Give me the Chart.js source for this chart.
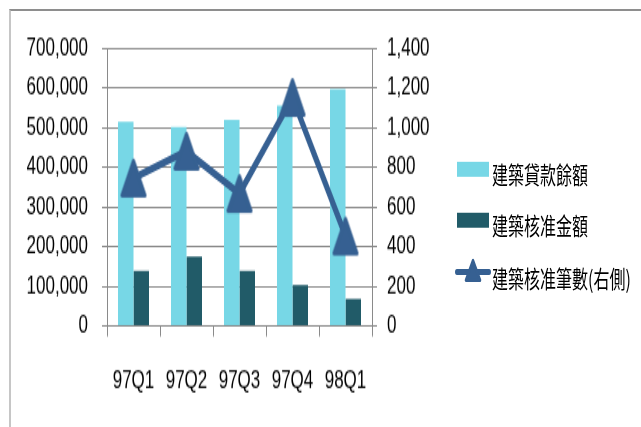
<!DOCTYPE html>
<html>
<head>
<meta charset="utf-8">
<script src="https://cdn.jsdelivr.net/npm/chart.js@4.4.1/dist/chart.umd.min.js"></script>
<style>
  html, body { margin: 0; padding: 0; background: #ffffff; }
  body { width: 641px; height: 427px; position: relative; overflow: hidden; }
  #frame { position: absolute; left: 9px; top: 9px; width: 700px; height: 500px;
           border-top: 2px solid #8e8e8e; border-left: 2px solid #c6c6c6; }
  #wrap { position: absolute; left: 0; top: 0; width: 641px; height: 285px;
          transform: scaleY(1.4982); transform-origin: 0 0; }
  #c { position: absolute; left: 0; top: 0; }
  .lg { position: absolute; font-family: "Noto Sans CJK TC", "Noto Sans CJK SC", sans-serif;
        font-size: 16px; line-height: 16px; color: #000; white-space: nowrap; }
  .sw { position: absolute; width: 32px; height: 10px; }
</style>
</head>
<body>
<div id="frame"></div>
<div id="wrap">
  <canvas id="c" width="641" height="285"></canvas>
  <div class="sw" style="left:457px; top:107.5px; background:#77D7E6;"></div>
  <div class="lg" style="left:492px; top:107.5px;" id="l0"></div>
  <div class="sw" style="left:457px; top:142px; background:#215B68;"></div>
  <div class="lg" style="left:492px; top:142.2px;" id="l1"></div>
  <svg style="position:absolute; left:452px; top:170px;" width="42" height="24">
    <line x1="5" y1="11.6" x2="37" y2="11.6" stroke="#366092" stroke-width="4" stroke-linecap="round"/>
    <polygon points="21,4 14,17 28,17" fill="#366092" stroke="#366092" stroke-width="2.5" stroke-linejoin="round"/>
  </svg>
  <div class="lg" style="left:492px; top:176.9px;" id="l2"></div>
</div>
<script>
// ---- data ----
const categories = ['97Q1', '97Q2', '97Q3', '97Q4', '98Q1'];
const seriesNames = ['建築貸款餘額', '建築核准金額', '建築核准筆數(右側)'];
const loanBalance = [514000, 501000, 519000, 555000, 596000];
const approvedAmount = [139000, 175000, 139000, 103000, 68000];
const approvedCount = [745, 880, 667, 1151, 453];
const leftTicks = [0, 100000, 200000, 300000, 400000, 500000, 600000, 700000];
const rightTicks = [0, 200, 400, 600, 800, 1000, 1200, 1400];

document.getElementById('l0').textContent = seriesNames[0];
document.getElementById('l1').textContent = seriesNames[1];
document.getElementById('l2').textContent = seriesNames[2];

// triangle marker with rounded corners
function makeTriangle() {
  const cv = document.createElement('canvas');
  cv.width = 28; cv.height = 28;
  const g = cv.getContext('2d');
  g.fillStyle = '#366092'; g.strokeStyle = '#366092';
  g.lineWidth = 3; g.lineJoin = 'round';
  g.beginPath();
  g.moveTo(14, 2.5); g.lineTo(2.5, 25.5); g.lineTo(25.5, 25.5); g.closePath();
  g.fill(); g.stroke();
  return cv;
}
const tri = makeTriangle();

const gridColor = '#8a8a8a';
const tickFont = { family: '"Liberation Sans", Arial, sans-serif', size: 17 };
const fmt = v => Number(v).toLocaleString('en-US');

new Chart(document.getElementById('c'), {
  type: 'bar',
  data: {
    labels: categories,
    datasets: [
      { type: 'line', label: seriesNames[2], data: approvedCount, yAxisID: 'y1',
        borderColor: '#366092', borderWidth: 5, tension: 0, order: 0,
        pointStyle: tri, pointRadius: 14, pointHoverRadius: 14,
        backgroundColor: '#366092', borderCapStyle: 'round', borderJoinStyle: 'round' },
      { label: seriesNames[0], data: loanBalance, yAxisID: 'y', order: 1,
        backgroundColor: '#77D7E6', borderWidth: 0,
        categoryPercentage: 0.585, barPercentage: 1.0 },
      { label: seriesNames[1], data: approvedAmount, yAxisID: 'y', order: 1,
        backgroundColor: '#215B68', borderWidth: 0,
        categoryPercentage: 0.585, barPercentage: 1.0 }
    ]
  },
  options: {
    responsive: false,
    animation: false,
    devicePixelRatio: 1,
    layout: { padding: { left: 27, right: 209, top: 32, bottom: 20.4 } },
    plugins: { legend: { display: false }, tooltip: { enabled: false } },
    scales: {
      x: {
        offset: true,
        grid: { display: true, drawOnChartArea: false, drawTicks: true, tickLength: 7, color: gridColor, lineWidth: 1 },
        border: { display: true, color: gridColor, width: 1 },
        ticks: { font: tickFont, color: '#000', padding: 19.5, maxRotation: 0 },
        afterFit: s => { s.height = 47; }
      },
      y: {
        position: 'left',
        min: 0, max: 700000,
        afterBuildTicks: s => { s.ticks = leftTicks.map(v => ({ value: v })); },
        grid: { color: gridColor, lineWidth: 1, tickLength: 5, drawTicks: true },
        border: { display: true, color: gridColor, width: 1 },
        ticks: { font: tickFont, color: '#000', padding: 14, callback: fmt },
        afterFit: s => { s.width = 80; }
      },
      y1: {
        position: 'right',
        min: 0, max: 1400,
        afterBuildTicks: s => { s.ticks = rightTicks.map(v => ({ value: v })); },
        grid: { drawOnChartArea: false, color: gridColor, lineWidth: 1, tickLength: 5, drawTicks: true },
        border: { display: true, color: gridColor, width: 1 },
        ticks: { font: tickFont, color: '#000', padding: 10, callback: fmt },
        afterFit: s => { s.width = 60; }
      }
    }
  }
});
</script>
</body>
</html>
